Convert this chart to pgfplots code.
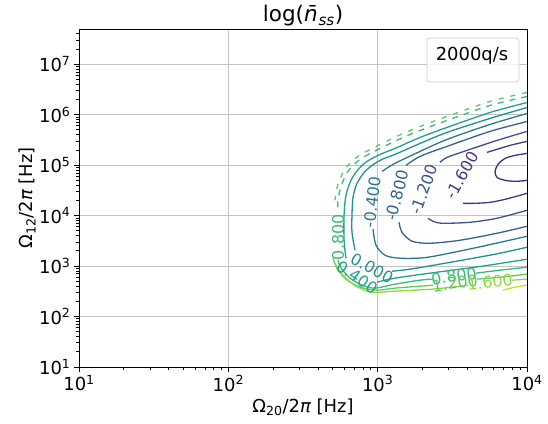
\documentclass[border=0pt]{standalone}
\usepackage{fontspec}
\setmainfont{DejaVu Sans}[ItalicFont={DejaVu Sans Oblique},BoldFont={DejaVu Sans Bold}]
\usepackage{pgfplots}
\pgfplotsset{compat=1.18}
\definecolor{cma}{HTML}{472A7A}
\definecolor{cmb}{HTML}{453781}
\definecolor{cmc}{HTML}{3B528B}
\definecolor{cmd}{HTML}{33638D}
\definecolor{cme}{HTML}{2A788E}
\definecolor{cz}{HTML}{21918C}
\definecolor{cpa}{HTML}{20A386}
\definecolor{cpb}{HTML}{3ABA76}
\definecolor{cpc}{HTML}{5EC962}
\definecolor{cpd}{HTML}{90D743}
\definecolor{cpe}{HTML}{C8E020}
\definecolor{gridgray}{HTML}{C4C4C4}
\definecolor{leggray}{HTML}{D0D0D0}
\newcommand\clab{\fontsize{16}{18}\selectfont}
\begin{document}
\begin{tikzpicture}
\useasboundingbox (0,0) rectangle (548bp,424bp);
\begin{axis}[
  at={(79bp,57bp)}, anchor=south west,
  scale only axis, width=448bp, height=338bp,
  xmin=1, xmax=4, ymin=1, ymax=7.699,
  xtick={1,2,3,4},
  xticklabels={10\textsuperscript{1},10\textsuperscript{2},10\textsuperscript{3},10\textsuperscript{4}},
  ytick={1,2,3,4,5,6,7},
  yticklabels={10\textsuperscript{1},10\textsuperscript{2},10\textsuperscript{3},10\textsuperscript{4},10\textsuperscript{5},10\textsuperscript{6},10\textsuperscript{7}},
  minor xtick={1.301,1.477,1.602,1.699,1.778,1.845,1.903,1.954,2.301,2.477,2.602,2.699,2.778,2.845,2.903,2.954,3.301,3.477,3.602,3.699,3.778,3.845,3.903,3.954},
  minor ytick={1.301,1.477,1.602,1.699,1.778,1.845,1.903,1.954,2.301,2.477,2.602,2.699,2.778,2.845,2.903,2.954,3.301,3.477,3.602,3.699,3.778,3.845,3.903,3.954,4.301,4.477,4.602,4.699,4.778,4.845,4.903,4.954,5.301,5.477,5.602,5.699,5.778,5.845,5.903,5.954,6.301,6.477,6.602,6.699,6.778,6.845,6.903,6.954,7.301,7.477,7.602},
  xmajorgrids, ymajorgrids,
  major grid style={color=gridgray, line width=0.9bp},
  tick pos=left, tick align=outside,
  major tick length=5bp, minor tick length=3bp,
  every tick/.style={black, line width=0.9bp},
  axis line style={black, line width=0.9bp},
  tick label style={font=\fontsize{18}{20}\selectfont},
  every axis x label/.style={at={(axis description cs:0.5,0)}, anchor=center, yshift=-40bp},
  every axis y label/.style={at={(axis description cs:0,0.5)}, anchor=center, xshift=-52bp, rotate=90},
  every axis title/.style={at={(axis description cs:0.5,1)}, anchor=center, yshift=13bp, font=\fontsize{21.6}{24}\selectfont},
  label style={font=\fontsize{18}{20}\selectfont},
  xlabel={Ω\textsubscript{20}/2\textit{π} [Hz]},
  ylabel={Ω\textsubscript{12}/2\textit{π} [Hz]},
  title={log(\textit{\=n}\textsubscript{\textit{ss}})},
  every axis plot/.append style={no marks, line width=1.3bp, smooth},
]
% level -2.0
\addplot[color=cma] coordinates {(4.000,5.233) (3.920,5.194) (3.853,5.134) (3.806,5.016) (3.786,4.877) (3.799,4.759) (3.853,4.699) (3.926,4.680) (4.000,4.699)};
% level -1.6
\addplot[color=cmb] coordinates {(4.000,5.471) (3.886,5.392) (3.732,5.253)};
\addplot[color=cmb] coordinates {(3.571,4.244) (3.652,4.244) (3.752,4.264) (3.853,4.323) (4.000,4.442)};
% level -1.2
\addplot[color=cmc] coordinates {(4.000,5.669) (3.799,5.491) (3.598,5.293) (3.464,5.154) (3.417,5.055)};
\addplot[color=cmc] coordinates {(3.337,3.948) (3.371,3.888) (3.431,3.849) (3.618,3.868) (3.799,3.948) (4.000,4.106)};
% level -0.8
\addplot[color=cmd] coordinates {(4.000,5.866) (3.752,5.669) (3.464,5.372) (3.284,5.174) (3.190,4.996)};
\addplot[color=cmd] coordinates {(3.143,3.868) (3.163,3.671) (3.230,3.493) (3.351,3.453) (3.551,3.512) (3.799,3.651) (4.000,3.789)};
% level -0.4
\addplot[color=cme] coordinates {(4.000,6.025) (3.752,5.807) (3.464,5.510) (3.284,5.273) (3.116,5.036) (3.029,4.877)};
\addplot[color=cme] coordinates {(2.969,3.730) (2.989,3.413) (3.049,3.216) (3.150,3.156) (3.337,3.176) (3.672,3.374) (4.000,3.591)};
% level 0.0
\addplot[color=cz] coordinates {(4.000,6.143) (3.752,5.926) (3.464,5.649) (3.284,5.431) (3.116,5.214) (3.016,5.095) (2.922,4.897) (2.862,4.640) (2.835,4.363) (2.828,4.007) (2.828,3.671) (2.848,3.314)};
\addplot[color=cz] coordinates {(3.096,2.899) (3.217,2.939) (3.451,3.057) (3.786,3.235) (4.000,3.374)};
% level 0.4
\addplot[color=cpa] coordinates {(4.000,6.242) (3.752,6.044) (3.464,5.748) (3.284,5.550) (3.116,5.332) (3.002,5.194) (2.902,5.016) (2.828,4.739) (2.788,4.403) (2.775,4.007) (2.775,3.512) (2.788,3.156)};
\addplot[color=cpa] coordinates {(2.996,2.681) (3.116,2.761) (3.351,2.860) (3.699,2.998) (4.000,3.136)};
% level 0.8
\addplot[color=cpb, dash pattern=on 6bp off 6bp] coordinates {(4.000,6.361) (3.752,6.183) (3.464,5.886) (3.217,5.609) (3.016,5.332) (2.882,5.115) (2.801,4.877) (2.755,4.581) (2.734,4.304) (2.734,4.046)};
\addplot[color=cpb] coordinates {(2.734,3.117) (2.755,2.958) (2.815,2.761) (2.895,2.622) (2.982,2.563) (3.116,2.642) (3.284,2.721) (3.364,2.741)};
\addplot[color=cpb] coordinates {(3.659,2.860) (3.819,2.919) (4.000,2.978)};
% level 1.2
\addplot[color=cpc, dash pattern=on 5bp off 7bp] coordinates {(4.000,6.440) (3.752,6.262) (3.464,5.965) (3.217,5.688) (3.016,5.411) (2.868,5.174) (2.781,4.917) (2.734,4.620) (2.714,4.304)};
\addplot[color=cpc] coordinates {(2.701,3.156) (2.728,2.958) (2.788,2.741) (2.882,2.583) (2.996,2.523) (3.116,2.563) (3.284,2.602) (3.371,2.622)};
\addplot[color=cpc] coordinates {(3.665,2.741) (3.819,2.780) (4.000,2.840)};
% level 1.6
\addplot[color=cpd] coordinates {(2.708,3.077) (2.768,2.820) (2.855,2.602) (2.962,2.484) (3.116,2.503) (3.364,2.543) (3.551,2.602) (3.605,2.622)};
\addplot[color=cpd] coordinates {(3.900,2.721) (4.000,2.741)};
% level 2.0
\addplot[color=cpe] coordinates {(3.839,2.523) (3.920,2.583) (4.000,2.622)};
% contour labels
\node[rotate=60, text=cmb, font=\clab] at (axis cs:3.565,4.798) {-1.600};
\node[rotate=70, text=cmc, font=\clab] at (axis cs:3.310,4.521) {-1.200};
\node[rotate=76, text=cmd, font=\clab] at (axis cs:3.130,4.403) {-0.800};
\node[rotate=83, text=cme, font=\clab] at (axis cs:2.962,4.264) {-0.400};
\node[rotate=90, text=cpb, font=\clab] at (axis cs:2.734,3.572) {0.800};
\node[rotate=-29, text=cz, font=\clab] at (axis cs:2.962,2.958) {0.000};
\node[rotate=-34, text=cpa, font=\clab] at (axis cs:2.862,2.780) {0.400};
\node[rotate=8, text=cpb, font=\clab] at (axis cs:3.511,2.800) {0.800};
\node[rotate=8, text=cpc, font=\clab] at (axis cs:3.518,2.662) {1.200};
\node[rotate=6, text=cpd, font=\clab] at (axis cs:3.752,2.682) {1.600};
\end{axis}
\draw[rounded corners=3bp, draw=leggray, fill=white, fill opacity=0.8, line width=0.8bp] (427bp,342bp) rectangle (519bp,386bp);
\node[anchor=base, font=\fontsize{18}{20}\selectfont, inner sep=0pt] at (472bp,363bp) {2000q/s};
\end{tikzpicture}
\end{document}
